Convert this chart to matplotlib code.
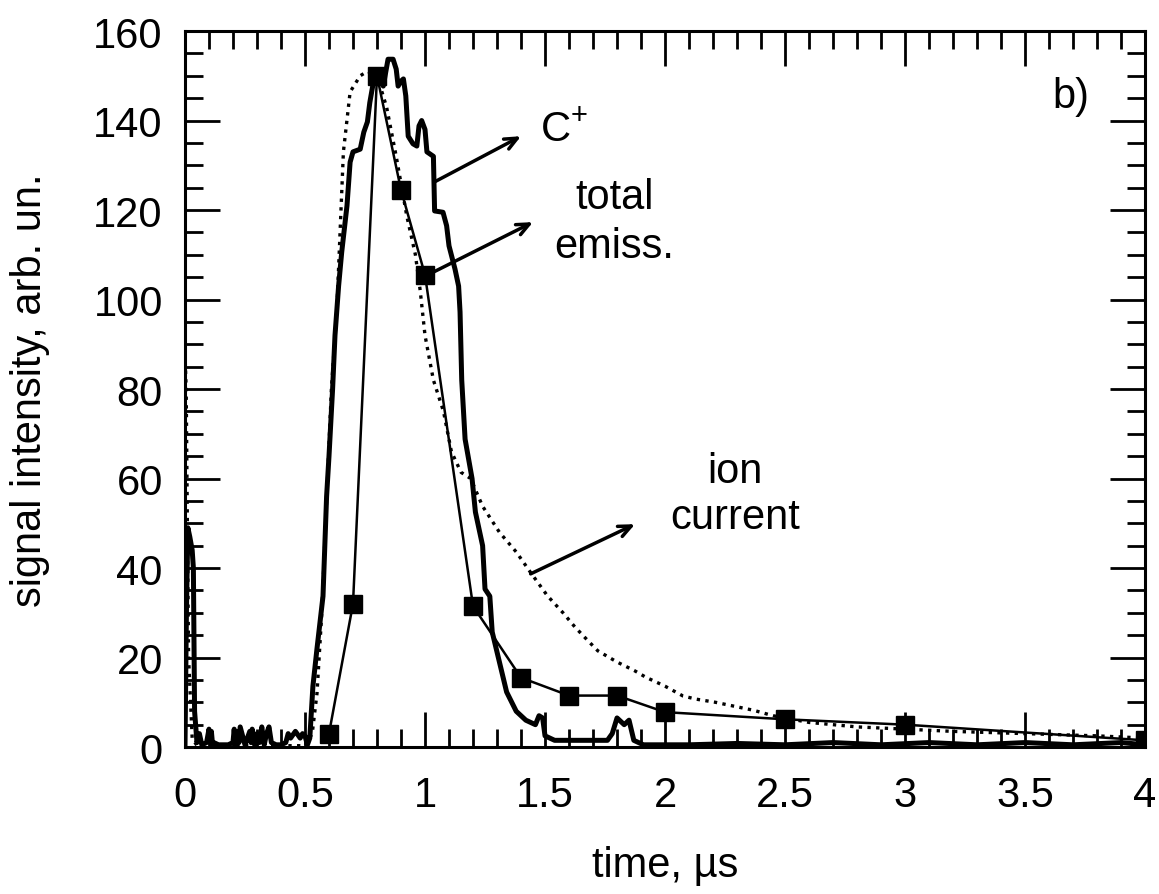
import numpy as np
import matplotlib
matplotlib.use("Agg")
import matplotlib.pyplot as plt
from matplotlib.ticker import MultipleLocator

plt.rcParams['font.family'] = ['Liberation Sans', 'DejaVu Sans']
plt.rcParams['mathtext.fontset'] = 'custom'
plt.rcParams['mathtext.rm'] = 'Liberation Sans'
plt.rcParams['mathtext.default'] = 'regular'

# C+ signal (thick line)
cplus_t = [0.0, 0.006, 0.012, 0.02, 0.03, 0.035, 0.04, 0.05, 0.06, 0.07, 0.09, 0.1, 0.105,
           0.11, 0.115, 0.12, 0.14, 0.16, 0.18, 0.2, 0.205, 0.21, 0.22, 0.225, 0.23, 0.25,
           0.27, 0.275, 0.28, 0.29, 0.3, 0.31, 0.32, 0.33, 0.34, 0.35, 0.36, 0.38, 0.4,
           0.42, 0.43, 0.44, 0.46, 0.48, 0.49, 0.5, 0.51, 0.52, 0.533, 0.55, 0.575, 0.59,
           0.60, 0.615, 0.625, 0.64, 0.653, 0.675, 0.688, 0.70, 0.73, 0.745, 0.76, 0.77,
           0.785, 0.81, 0.826, 0.846, 0.867, 0.88, 0.888, 0.90, 0.91, 0.92, 0.93, 0.95,
           0.966, 0.975, 0.986, 1.0, 1.008, 1.035, 1.04, 1.075, 1.09, 1.10, 1.125, 1.14,
           1.146, 1.153, 1.167, 1.196, 1.21, 1.24, 1.25, 1.27, 1.28, 1.31, 1.34, 1.38,
           1.42, 1.46, 1.475, 1.49, 1.50, 1.54, 1.7, 1.76, 1.78, 1.80, 1.83, 1.85, 1.87,
           1.91, 2.1, 2.3, 2.5, 2.7, 2.9, 3.1, 3.3, 3.5, 3.7, 3.9, 4.0]
cplus_y = [0.0, 30, 49, 47, 44, 40, 8, 1, 3, 0.5, 1, 4, 1,
           3.5, 0.5, 1, 0.5, 0.5, 0.5, 1, 4, 0.5, 3.5, 1, 4.5, 0.5,
           3.5, 1, 4, 0.5, 3, 1, 4.5, 0.5, 3, 4.5, 1, 0.5, 0.5,
           1, 3, 2, 3.5, 2, 3, 2.5, 0.5, 2, 13.6, 22, 33.7, 56,
           65, 80, 92, 103, 110.6, 121, 130.7, 133, 133.6, 137.4, 139.7, 144,
           148.6, 150, 147.7, 153.7, 153.7, 151.5, 147.7, 148.8, 149.3, 145.5, 136.5, 134.8,
           134.3, 138.8, 140, 138, 133, 132, 119.8, 119.5, 116.5, 112, 106.8, 103,
           97.2, 82, 68.8, 60, 52.5, 45, 35.3, 33.7, 25.7, 19, 12.3, 8,
           6, 5, 7, 6.5, 2.5, 1.5, 1.5, 1.5, 3, 6.5, 5, 6, 1.5,
           0.5, 0.5, 0.8, 0.5, 1, 0.5, 1, 0.5, 1, 0.5, 1, 0.5]

# total emission (thin line with squares)
total_t = [0.6, 0.7, 0.8, 0.9, 1.0, 1.2, 1.4, 1.6, 1.8, 2.0, 2.5, 3.0, 4.0]
total_y = [3, 32, 150, 124.5, 105.5, 31.5, 15.5, 11.5, 11.5, 7.8, 6.2, 5.0, 1.5]

# ion current (dotted)
ion_t = [0.0, 0.005, 0.01, 0.015, 0.03, 0.05, 0.5, 0.53, 0.55, 0.57, 0.59, 0.61, 0.633,
         0.66, 0.688, 0.73, 0.76, 0.8, 0.84, 0.88, 0.924, 0.96, 0.98, 1.0, 1.035, 1.077,
         1.11, 1.15, 1.19, 1.24, 1.31, 1.38, 1.44, 1.51, 1.575, 1.625, 1.68, 1.72, 1.8,
         1.875, 1.92, 2.0, 2.075, 2.13, 2.21, 2.37, 2.45, 2.6, 2.8, 3.0, 3.2, 3.5, 3.8, 4.0]
ion_y = [88, 80, 50, 20, 2, 0.3, 0.3, 3, 12, 30, 55, 80, 98,
         133, 146.4, 150, 151, 150, 143, 132, 118.7, 110, 102, 92, 82, 75,
         66, 61.4, 60, 53.8, 48, 43.6, 39, 33.8, 30, 26.8, 23.7, 21.5, 19,
         17, 15.6, 13.6, 11.4, 10.7, 10, 8.2, 7, 5.5, 4.5, 4, 3.5, 3, 2.5, 2]

fig = plt.figure(figsize=(11.59, 8.95), dpi=100)
ax = fig.add_axes([0.1596, 0.1642, 0.8284, 0.8000])

ax.plot(ion_t, ion_y, color='k', lw=2.4, linestyle=(0, (1.0, 1.6)))
ax.plot(cplus_t, cplus_y, color='k', lw=3.6, solid_joinstyle='round')
ax.plot(total_t, total_y, color='k', lw=1.8, marker='s', markersize=13)

ax.set_xlim(0, 4)
ax.set_ylim(0, 160)
ax.xaxis.set_major_locator(MultipleLocator(0.5))
ax.xaxis.set_minor_locator(MultipleLocator(0.1))
ax.yaxis.set_major_locator(MultipleLocator(20))
ax.yaxis.set_minor_locator(MultipleLocator(5))
ax.set_xticks([0, 0.5, 1, 1.5, 2, 2.5, 3, 3.5, 4])
ax.set_xticklabels(['0', '0.5', '1', '1.5', '2', '2.5', '3', '3.5', '4'])

ax.tick_params(which='both', direction='in', top=True, right=True, width=2.0, labelsize=30)
ax.tick_params(which='major', length=25)
ax.tick_params(which='minor', length=13)
ax.tick_params(axis='x', pad=20)
ax.tick_params(axis='y', pad=16)
for s in ax.spines.values():
    s.set_linewidth(2.2)

ax.set_xlabel('time, µs', fontsize=30)
ax.set_ylabel('signal intensity, arb. un.', fontsize=30)
ax.xaxis.set_label_coords(0.5, -0.137)
ax.yaxis.set_label_coords(-0.141, 0.5)

arrow = dict(arrowstyle='->,head_length=0.9,head_width=0.4', lw=2.5, color='k',
             shrinkA=0, shrinkB=0)
ax.annotate('', xy=(1.40, 136.5), xytext=(1.04, 126.3), arrowprops=arrow)
ax.annotate('', xy=(1.45, 117.3), xytext=(1.03, 106), arrowprops=arrow)
ax.annotate('', xy=(1.875, 49.8), xytext=(1.44, 38.7), arrowprops=arrow)

ax.text(1.48, 138, r'$C^{+}$', fontsize=30, va='center', ha='left')
ax.text(1.79, 123, 'total', fontsize=30, va='center', ha='center')
ax.text(1.79, 112, 'emiss.', fontsize=30, va='center', ha='center')
ax.text(2.29, 61.7, 'ion', fontsize=30, va='center', ha='center')
ax.text(2.29, 51.4, 'current', fontsize=30, va='center', ha='center')
ax.text(3.69, 145.5, 'b)', fontsize=30, va='center', ha='center')

fig.savefig('out.png', dpi=100)
